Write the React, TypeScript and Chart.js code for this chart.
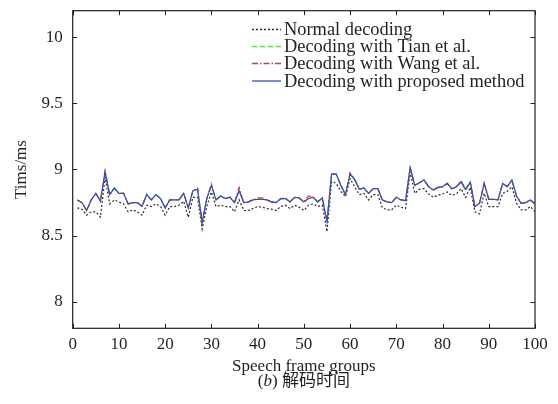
import React, { useEffect, useRef } from "react";
import { Chart, registerables } from "chart.js";

Chart.register(...registerables);

// Speech frame group index (x axis)
const GROUPS = [
  1, 2, 3, 4, 5, 6, 7, 8, 9, 10, 11, 12, 13, 14, 15, 16, 17, 18, 19, 20,
  21, 22, 23, 24, 25, 26, 27, 28, 29, 30, 31, 32, 33, 34, 35, 36, 37, 38, 39, 40,
  41, 42, 43, 44, 45, 46, 47, 48, 49, 50, 51, 52, 53, 54, 55, 56, 57, 58, 59, 60,
  61, 62, 63, 64, 65, 66, 67, 68, 69, 70, 71, 72, 73, 74, 75, 76, 77, 78, 79, 80,
  81, 82, 83, 84, 85, 86, 87, 88, 89, 90, 91, 92, 93, 94, 95, 96, 97, 98, 99, 100,
];

// Decoding time (ms) per group
const NORMAL = [
  8.71, 8.70, 8.655, 8.68, 8.68, 8.64, 8.94, 8.74, 8.77, 8.755,
  8.74, 8.68, 8.695, 8.68, 8.655, 8.73, 8.72, 8.74, 8.72, 8.655,
  8.72, 8.72, 8.73, 8.76, 8.64, 8.79, 8.79, 8.55, 8.72, 8.83,
  8.72, 8.73, 8.72, 8.72, 8.68, 8.77, 8.69, 8.69, 8.705, 8.72,
  8.715, 8.705, 8.70, 8.69, 8.72, 8.73, 8.705, 8.73, 8.715, 8.69,
  8.73, 8.74, 8.72, 8.73, 8.53, 8.91, 8.895, 8.835, 8.795, 8.93,
  8.87, 8.81, 8.82, 8.77, 8.81, 8.81, 8.71, 8.695, 8.695, 8.73,
  8.715, 8.705, 8.98, 8.82, 8.85, 8.855, 8.815, 8.79, 8.805, 8.815,
  8.83, 8.805, 8.815, 8.855, 8.79, 8.865, 8.68, 8.665, 8.82, 8.72,
  8.72, 8.72, 8.82, 8.835, 8.87, 8.745, 8.695, 8.695, 8.72, 8.68,
];

const TIAN = [
  8.77, 8.75, 8.69, 8.77, 8.82, 8.76, 8.975, 8.81, 8.86, 8.82,
  8.82, 8.74, 8.75, 8.75, 8.72, 8.815, 8.77, 8.81, 8.78, 8.71,
  8.77, 8.77, 8.77, 8.82, 8.71, 8.84, 8.85, 8.61, 8.78, 8.895,
  8.77, 8.80, 8.78, 8.79, 8.75, 8.84, 8.75, 8.755, 8.77, 8.775,
  8.775, 8.77, 8.755, 8.75, 8.78, 8.79, 8.755, 8.79, 8.785, 8.755,
  8.78, 8.79, 8.755, 8.785, 8.605, 8.965, 8.965, 8.885, 8.81, 8.965,
  8.925, 8.85, 8.86, 8.82, 8.855, 8.855, 8.77, 8.755, 8.75, 8.79,
  8.77, 8.765, 9.015, 8.88, 8.90, 8.92, 8.87, 8.845, 8.86, 8.87,
  8.895, 8.855, 8.87, 8.905, 8.84, 8.905, 8.72, 8.745, 8.895, 8.775,
  8.775, 8.77, 8.895, 8.87, 8.92, 8.80, 8.745, 8.75, 8.77, 8.74,
];

const WANG = [
  8.77, 8.75, 8.69, 8.77, 8.82, 8.76, 8.99, 8.81, 8.86, 8.82,
  8.82, 8.74, 8.75, 8.75, 8.72, 8.81, 8.77, 8.81, 8.78, 8.71,
  8.77, 8.77, 8.77, 8.82, 8.71, 8.84, 8.86, 8.59, 8.78, 8.88,
  8.77, 8.80, 8.78, 8.79, 8.75, 8.865, 8.75, 8.755, 8.77, 8.785,
  8.785, 8.77, 8.755, 8.75, 8.78, 8.78, 8.755, 8.79, 8.785, 8.755,
  8.80, 8.79, 8.755, 8.785, 8.605, 8.965, 8.965, 8.88, 8.81, 8.975,
  8.925, 8.85, 8.86, 8.82, 8.855, 8.855, 8.77, 8.755, 8.75, 8.79,
  8.77, 8.765, 9.01, 8.88, 8.90, 8.92, 8.87, 8.845, 8.865, 8.87,
  8.895, 8.855, 8.87, 8.915, 8.85, 8.905, 8.72, 8.745, 8.895, 8.775,
  8.775, 8.77, 8.895, 8.87, 8.92, 8.80, 8.745, 8.75, 8.77, 8.74,
];

const PROPOSED = [
  8.77, 8.75, 8.69, 8.77, 8.82, 8.76, 8.98, 8.81, 8.86, 8.82,
  8.82, 8.74, 8.75, 8.75, 8.72, 8.81, 8.77, 8.81, 8.78, 8.71,
  8.77, 8.77, 8.77, 8.82, 8.71, 8.84, 8.85, 8.60, 8.78, 8.88,
  8.77, 8.80, 8.78, 8.79, 8.75, 8.84, 8.75, 8.755, 8.77, 8.775,
  8.775, 8.77, 8.755, 8.75, 8.78, 8.78, 8.755, 8.79, 8.785, 8.755,
  8.78, 8.79, 8.755, 8.785, 8.605, 8.965, 8.965, 8.88, 8.81, 8.965,
  8.925, 8.85, 8.86, 8.82, 8.855, 8.855, 8.77, 8.755, 8.75, 8.79,
  8.77, 8.765, 9.015, 8.88, 8.90, 8.92, 8.87, 8.845, 8.865, 8.87,
  8.895, 8.855, 8.87, 8.905, 8.85, 8.905, 8.72, 8.745, 8.895, 8.775,
  8.775, 8.77, 8.895, 8.87, 8.92, 8.80, 8.745, 8.75, 8.77, 8.74,
];

const X_TICKS = [0, 10, 20, 30, 40, 50, 60, 70, 80, 90, 100];
const Y_TICKS = [8, 8.5, 9, 9.5, 10];

const SERIES_NAMES = [
  "Normal decoding",
  "Decoding with Tian et al.",
  "Decoding with Wang et al.",
  "Decoding with proposed method",
];

const X_TITLE = "Speech frame groups";
const Y_TITLE = "Tims/ms";

const SERIF = "'Liberation Serif', 'Times New Roman', serif";
const INK = "#231f20";

const toPoints = (ys: number[]) => ys.map((y, i) => ({ x: GROUPS[i], y }));

// Frame, inward tick marks, axis titles, in-plot legend and caption
const decorations = {
  id: "decorations",
  afterDraw(chart: any) {
    const { ctx, chartArea: a, scales } = chart;
    const xs = scales.x;
    const ys = scales.y;
    ctx.save();
    ctx.strokeStyle = INK;
    ctx.lineWidth = 1.2;
    ctx.setLineDash([]);
    ctx.strokeRect(a.left, a.top, a.right - a.left, a.bottom - a.top);

    const tl = 4.5;
    ctx.lineWidth = 1;
    ctx.beginPath();
    xs.ticks.forEach((t: any) => {
      const px = Math.round(xs.getPixelForValue(t.value)) + 0.5;
      ctx.moveTo(px, a.bottom);
      ctx.lineTo(px, a.bottom - tl);
      ctx.moveTo(px, a.top);
      ctx.lineTo(px, a.top + tl);
    });
    ys.ticks.forEach((t: any) => {
      const py = Math.round(ys.getPixelForValue(t.value)) + 0.5;
      ctx.moveTo(a.left, py);
      ctx.lineTo(a.left + tl, py);
      ctx.moveTo(a.right, py);
      ctx.lineTo(a.right - tl, py);
    });
    ctx.stroke();

    // axis titles
    ctx.fillStyle = INK;
    ctx.font = `17px ${SERIF}`;
    ctx.textAlign = "center";
    ctx.textBaseline = "middle";
    ctx.fillText(X_TITLE, (a.left + a.right) / 2, 367);
    ctx.save();
    ctx.translate(22, (a.top + a.bottom) / 2);
    ctx.rotate(-Math.PI / 2);
    ctx.fillText(Y_TITLE, 0, 0);
    ctx.restore();

    // legend
    const lx0 = 252;
    const lx1 = 281;
    const rowY = [29.5, 46.5, 63.5, 81];
    ctx.font = `18.4px ${SERIF}`;
    ctx.textBaseline = "middle";
    ctx.textAlign = "left";
    SERIES_NAMES.forEach((name, i) => {
      const ds = chart.data.datasets.find((d: any) => d.label === name);
      if (!ds) return;
      ctx.strokeStyle = ds.borderColor;
      ctx.lineWidth = 1.3;
      ctx.setLineDash(ds.borderDash || []);
      ctx.beginPath();
      ctx.moveTo(lx0, rowY[i]);
      ctx.lineTo(lx1, rowY[i]);
      ctx.stroke();
      ctx.setLineDash([]);
      ctx.fillStyle = INK;
      ctx.fillText(name, lx1 + 3, rowY[i] + 1);
    });

    // caption
    const cy = 382;
    const p1 = "(";
    const p2 = "b";
    const p3 = ") 解码时间";
    ctx.font = `17px ${SERIF}`;
    const w1 = ctx.measureText(p1).width;
    ctx.font = `italic 17px ${SERIF}`;
    const w2 = ctx.measureText(p2).width;
    ctx.font = `17px ${SERIF}, 'Noto Sans CJK SC'`;
    const w3 = ctx.measureText(p3).width;
    let cx = (a.left + a.right) / 2 - (w1 + w2 + w3) / 2;
    ctx.textAlign = "left";
    ctx.fillStyle = INK;
    ctx.font = `17px ${SERIF}`;
    ctx.fillText(p1, cx, cy);
    cx += w1;
    ctx.font = `italic 17px ${SERIF}`;
    ctx.fillText(p2, cx, cy);
    cx += w2;
    ctx.font = `17px ${SERIF}, 'Noto Sans CJK SC'`;
    ctx.fillText(p3, cx, cy);
    ctx.restore();
  },
};

export default function App() {
  const ref = useRef<HTMLCanvasElement | null>(null);

  useEffect(() => {
    if (!ref.current) return;
    const line = (label: string, data: number[], color: string, dash: number[], order: number) => ({
      label,
      data: toPoints(data),
      borderColor: color,
      backgroundColor: color,
      borderWidth: 1.2,
      borderDash: dash,
      pointRadius: 0,
      tension: 0,
      fill: false,
      order,
    });
    const chart = new Chart(ref.current, {
      type: "line",
      data: {
        datasets: [
          line(SERIES_NAMES[0], NORMAL, "#2b2b2b", [2, 2], 3),
          line(SERIES_NAMES[1], TIAN, "#6fd05c", [5, 3], 2),
          line(SERIES_NAMES[2], WANG, "#ec2d35", [6, 2, 1.5, 2], 1),
          line(SERIES_NAMES[3], PROPOSED, "#3351b3", [], 0),
        ],
      },
      options: {
        animation: false,
        responsive: false,
        devicePixelRatio: 1,
        layout: { padding: { left: 0, right: 23, top: 10.7, bottom: 31 } },
        plugins: { legend: { display: false }, tooltip: { enabled: false } },
        scales: {
          x: {
            type: "linear",
            min: 0,
            max: 100,
            afterBuildTicks: (s: any) => {
              s.ticks = X_TICKS.map((v) => ({ value: v }));
            },
            afterFit: (s: any) => {
              s.height = 44.7;
              s.paddingLeft = 0;
              s.paddingRight = 0;
            },
            grid: { display: false, drawTicks: false },
            border: { display: false },
            ticks: {
              color: INK,
              font: { family: SERIF, size: 17 },
              padding: 6,
              maxRotation: 0,
              callback: (v: any) => String(v),
            },
          },
          y: {
            type: "linear",
            min: 7.8,
            max: 10.2,
            afterBuildTicks: (s: any) => {
              s.ticks = Y_TICKS.map((v) => ({ value: v }));
            },
            afterFit: (s: any) => {
              s.width = 72.7;
              s.paddingTop = 0;
              s.paddingBottom = 0;
            },
            grid: { display: false, drawTicks: false },
            border: { display: false },
            ticks: {
              color: INK,
              font: { family: SERIF, size: 17 },
              padding: 10,
              callback: (v: any) => String(v),
            },
          },
        },
      },
      plugins: [decorations],
    });
    return () => chart.destroy();
  }, []);

  return (
    <div style={{ position: "fixed", left: 0, top: 0, width: 558, height: 404, background: "#fff" }}>
      <canvas ref={ref} width={558} height={404} style={{ width: 558, height: 404, display: "block" }} />
    </div>
  );
}
